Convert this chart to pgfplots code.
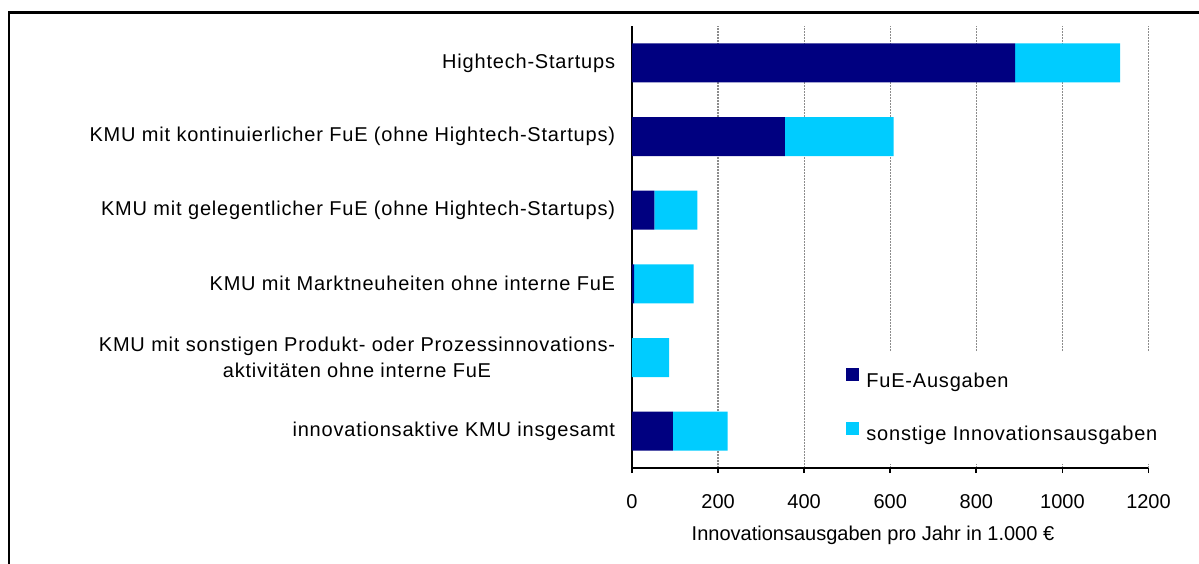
\documentclass[border=0pt]{standalone}
\usepackage{fontspec}
\setmainfont{Liberation Sans}
\newfontfamily\widesans{Liberation Sans}[LetterSpace=4]
\usepackage{pgfplots}
\pgfplotsset{compat=1.18}

\definecolor{fueblue}{HTML}{000080}
\definecolor{sonstcyan}{HTML}{00CCFF}

\begin{document}
\begin{tikzpicture}[font=\fontsize{10}{12}\selectfont]
\useasboundingbox (-316pt,-47.5pt) rectangle (283.5pt,234pt);
% outer frame (top and left edge only, as in the source)
\draw[line width=1.1pt] (-311.5pt,-48pt) -- (-311.5pt,227.7pt) -- (284pt,227.7pt);
\begin{axis}[
    at={(0,0)}, anchor=south west,
    scale only axis,
    width=258.25pt, height=221pt,
    xbar stacked,
    bar width=19.5pt,
    xmin=0, xmax=1200,
    ymin=-0.5, ymax=5.5,
    xtick={0,200,...,1200},
    ytick={0,...,5},
    yticklabels={
      innovationsaktive KMU insgesamt,
      {KMU mit sonstigen Produkt- oder Prozessinnovations-\\aktivitäten ohne interne FuE},
      KMU mit Marktneuheiten ohne interne FuE,
      KMU mit gelegentlicher FuE (ohne Hightech-Startups),
      KMU mit kontinuierlicher FuE (ohne Hightech-Startups),
      Hightech-Startups},
    axis lines*=left,
    axis line style={-, line width=0.9pt},
    tick align=outside,
    xtick style={black, line width=0.9pt},
    major tick length=2.5pt,
    ytick style={draw=none},
    xmajorgrids,
    major grid style={black!45, line width=0.6pt, dash pattern=on 1pt off 0.5pt},
    /pgf/number format/assume math mode=true,
    /pgf/number format/1000 sep={},
    xticklabel style={inner sep=0pt, anchor=north, yshift=-10.5pt},
    yticklabel style={anchor=east, inner sep=0pt, xshift=-5.75pt, align=center,
      font=\widesans\fontsize{10}{13}\selectfont},
    xlabel={Innovationsausgaben pro Jahr in 1.000 €},
    x label style={at={(axis description cs:0.4666,-0.1516)}, anchor=center, inner sep=0pt},
    legend cell align=left,
    legend image code/.code={\fill[#1] (0pt,0pt) rectangle (6.5pt,6.5pt);},
    legend style={at={(axis description cs:0.393,0.2624)}, anchor=north west,
      draw=none, fill=white, inner xsep=5.5pt, inner ysep=8pt, row sep=14pt,
      /tikz/every odd column/.append style={column sep=1.5pt},
      font=\widesans\fontsize{10}{12}\selectfont},
]
\addplot[fill=fueblue, draw=none] coordinates {
  (95,0) (0,1) (5,2) (52,3) (355,4) (890,5)};
\addplot[fill=sonstcyan, draw=none] coordinates {
  (127,0) (86,1) (138,2) (100,3) (253,4) (244,5)};
\legend{FuE-Ausgaben, sonstige Innovationsausgaben}
\end{axis}
\end{tikzpicture}
\end{document}
